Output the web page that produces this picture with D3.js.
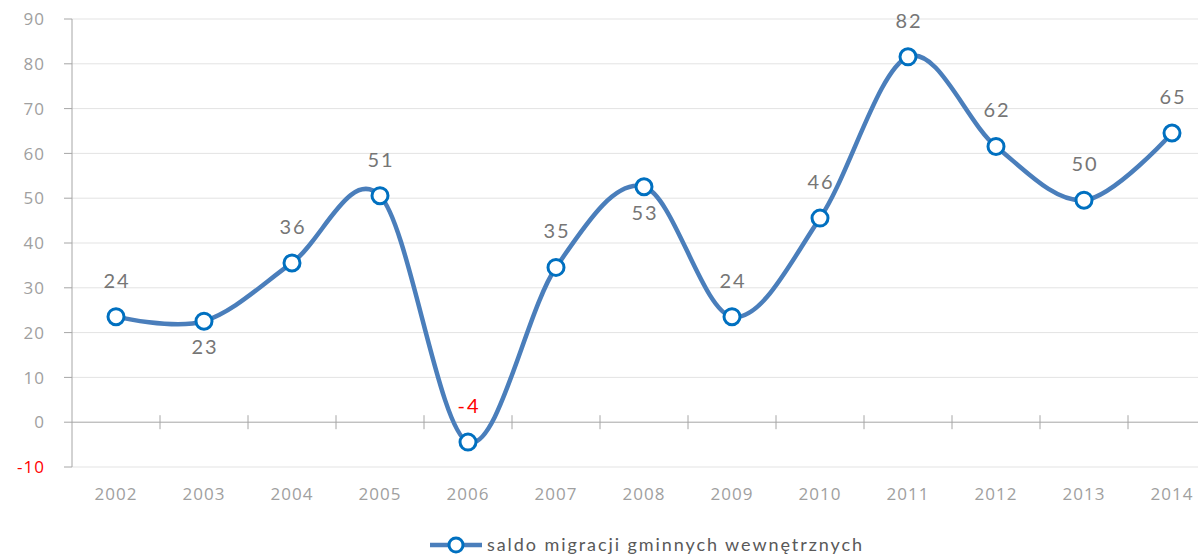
<!DOCTYPE html>
<html lang="pl">
<head>
<meta charset="UTF-8">
<title>saldo migracji</title>
<script src="https://d3js.org/d3.v7.min.js"></script>
<style>
    body { margin: 0; background: #fff; }
    text { font-family: Lato, "Open Sans", sans-serif; }
    .axis text { font-family: "Open Sans", sans-serif; }
</style>
</head>
<body>
<svg id="chart" width="1198" height="555"></svg>
<script>
// data
const years = ['2002','2003','2004','2005','2006','2007','2008','2009','2010','2011','2012','2013','2014'];
const saldo = [24, 23, 36, 51, -4, 35, 53, 24, 46, 82, 62, 50, 65];
const labelBelow = ['2003', '2008'];
const yTicks = [-10, 0, 10, 20, 30, 40, 50, 60, 70, 80, 90];
const seriesName = 'saldo migracji gminnych wewnętrznych';

const svg = d3.select('#chart');
const plotLeft = 72, plotTop = 19, plotBottom = 467;
const band = 88;

const x = d3.scaleBand().domain(years).range([plotLeft, plotLeft + band * years.length]);
const y = d3.scaleLinear().domain([-10, 90]).range([plotBottom, plotTop]);

// gridlines
svg.append('g').selectAll('line')
    .data(yTicks.filter(d => d !== 0))
    .enter().append('line')
    .attr('x1', plotLeft).attr('x2', 1198)
    .attr('y1', d => y(d)).attr('y2', d => y(d))
    .style('stroke', '#e3e3e3').style('stroke-width', 1);

// y axis
const yAxis = svg.append('g').attr('class', 'axis');
yAxis.append('line')
    .attr('x1', plotLeft).attr('x2', plotLeft).attr('y1', plotTop).attr('y2', plotBottom)
    .style('stroke', '#a6a6a6');
yAxis.selectAll('line.tick')
    .data(yTicks).enter().append('line')
    .attr('class', 'tick')
    .attr('x1', plotLeft - 8).attr('x2', plotLeft)
    .attr('y1', d => y(d)).attr('y2', d => y(d))
    .style('stroke', '#a6a6a6');
yAxis.selectAll('text')
    .data(yTicks).enter().append('text')
    .attr('x', 45).attr('y', d => y(d))
    .attr('dy', '0.36em')
    .attr('text-anchor', 'end')
    .style('font-size', '17px')
    .style('letter-spacing', '1px')
    .style('fill', d => d < 0 ? '#ff0000' : '#a0a0a0')
    .text(d => d);

// x axis on zero
const xAxis = svg.append('g').attr('class', 'axis');
xAxis.append('line')
    .attr('x1', plotLeft).attr('x2', 1198).attr('y1', y(0)).attr('y2', y(0))
    .style('stroke', '#a6a6a6');
xAxis.selectAll('line.tick')
    .data(years.slice(1)).enter().append('line')
    .attr('class', 'tick')
    .attr('x1', d => x(d)).attr('x2', d => x(d))
    .attr('y1', y(0) - 7).attr('y2', y(0) + 7)
    .style('stroke', '#a6a6a6');
xAxis.selectAll('text')
    .data(years).enter().append('text')
    .attr('x', d => x(d) + x.bandwidth() / 2)
    .attr('y', 500)
    .attr('text-anchor', 'middle')
    .style('font-size', '17px')
    .style('letter-spacing', '1px')
    .style('fill', '#a0a0a0')
    .text(d => d);

// line + markers (excel draws them a touch lower)
const pts = years.map((yr, i) => ({ year: yr, value: saldo[i] }));
const cx = d => x(d.year) + x.bandwidth() / 2;
const line = d3.line()
    .x(cx).y(d => y(d.value))
    .curve(d3.curveCardinal.tension(0));

const series = svg.append('g').attr('transform', 'translate(0,2)');
series.append('path')
    .datum(pts)
    .attr('d', line)
    .style('fill', 'none')
    .style('stroke', '#4a7ebb')
    .style('stroke-width', 4.5)
    .style('stroke-linecap', 'round');

series.append('g').selectAll('circle')
    .data(pts).enter().append('circle')
    .attr('cx', cx).attr('cy', d => y(d.value))
    .attr('r', 8)
    .style('fill', '#fff')
    .style('stroke', '#0070c0')
    .style('stroke-width', 3);

// data labels
svg.append('g').selectAll('text')
    .data(pts).enter().append('text')
    .attr('x', d => cx(d) + 1)
    .attr('y', d => labelBelow.includes(d.year) ? y(d.value) + 35 : y(d.value) - 27)
    .attr('text-anchor', 'middle')
    .style('font-size', '20px')
    .style('letter-spacing', '2px')
    .style('fill', d => d.value < 0 ? '#ff0000' : '#767676')
    .text(d => d.value);

// legend
const lg = svg.append('g');
lg.append('line')
    .attr('x1', 430).attr('x2', 482).attr('y1', 545).attr('y2', 545)
    .style('stroke', '#4a7ebb').style('stroke-width', 4.5);
lg.append('circle')
    .attr('cx', 456).attr('cy', 545).attr('r', 7)
    .style('fill', '#fff').style('stroke', '#0070c0').style('stroke-width', 3);
lg.append('text')
    .attr('x', 487).attr('y', 551)
    .attr('textLength', 375)
    .attr('lengthAdjust', 'spacing')
    .style('font-size', '18px')
    .style('fill', '#595959')
    .text(seriesName);
</script>
</body>
</html>
